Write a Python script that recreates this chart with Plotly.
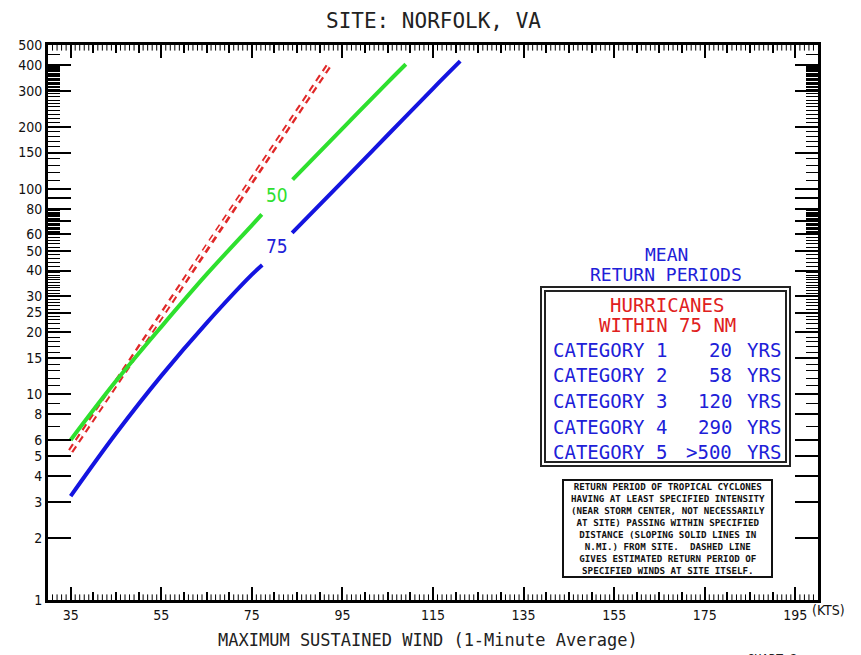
import math
import plotly.graph_objects as go

# ---------------- data ----------------
wind_50nm = [35, 45, 55, 65, 75, 77.2, None, 84, 95, 105, 109]
rp_50nm = [6.0, 11.6, 21.3, 38.3, 66.4, 75.0, None, 110.7, 196, 329, 403]

wind_75nm = [35, 45, 55, 65, 75, 77.3, None, 83.9, 95, 105, 115, 121]
rp_75nm = [3.2, 6.45, 12.3, 22.2, 38.2, 42.6, None, 61.0, 108.4, 182.5, 307, 417]

wind_site = [35, 45, 55, 65, 75, 85, 92.3]
rp_site = [5.3, 11.3, 24.0, 52.1, 111, 235, 407]

category_labels = ["CATEGORY 1", "CATEGORY 2", "CATEGORY 3", "CATEGORY 4", "CATEGORY 5"]
category_years = ["20", "58", "120", "290", ">500"]

x_label_vals = [35, 55, 75, 95, 115, 135, 155, 175, 195]
x_label_text = ["35", "55", "75", "95", "115", "135", "155", "175", "195"]
x_mid_ticks = [v for v in range(30, 201, 5)]
x_fine_ticks = [v for v in range(31, 200) if v % 5 != 0]

y_tick_vals = [1, 2, 3, 4, 5, 6, 8, 10, 15, 20, 25, 30, 40, 50, 60, 70, 80, 90,
               100, 150, 200, 300, 400, 500]
y_tick_text = ["1", "2", "3", "4", "5", "6", "8", "10", "15", "20", "25", "30",
               "40", "50", "60", "", "80", "", "100", "150", "200", "300", "400", "500"]
y_minor_ticks = ([7, 9, 11, 12, 13, 14, 16, 17, 18, 19]
                 + [v for v in range(21, 30) if v != 25]
                 + [v for v in range(31, 40)]
                 + [v for v in range(42, 60, 2) if v != 50]
                 + [v for v in range(61, 80) if v != 70]
                 + [110, 120, 130, 140, 160, 170, 180, 190]
                 + [210, 220, 230, 240, 250, 260, 270, 280, 290]
                 + [v for v in range(305, 400, 5)]
                 + [450])

notice_lines = [
    "RETURN PERIOD OF TROPICAL CYCLONES",
    "HAVING AT LEAST SPECIFIED INTENSITY",
    "(NEAR STORM CENTER, NOT NECESSARILY",
    "AT SITE) PASSING WITHIN SPECIFIED",
    "DISTANCE (SLOPING SOLID LINES IN",
    "N.MI.) FROM SITE.  DASHED LINE",
    "GIVES ESTIMATED RETURN PERIOD OF",
    "SPECIFIED WINDS AT SITE ITSELF.",
]

# ---------------- styling ----------------
GREEN = "#2ee02e"
BLUE = "#1414e0"
RED = "#e02828"
TXT_BLUE = "#2020d8"
TXT_RED = "#e02020"
MONO = "DejaVu Sans Mono"
COND = "DejaVu Sans Condensed, DejaVu Sans"
Y_MIN, Y_MAX = 1, 500

L, R, T, B = 48, 43, 45, 55
W, H = 861, 655
PW, PH = W - L - R, H - T - B


def px(x):
    return (x - L) / PW


def py(y):
    return (H - B - y) / PH


fig = go.Figure()

# fine 1-kt tick marks along bottom and top frame (markers clipped to the plot area)
for edge in (Y_MIN, Y_MAX):
    fig.add_trace(go.Scatter(x=x_fine_ticks, y=[edge] * len(x_fine_ticks), mode="markers",
                             marker=dict(symbol="line-ns", size=8,
                                         line=dict(color="black", width=1)),
                             cliponaxis=True, hoverinfo="skip"))

fig.add_trace(go.Scatter(x=wind_site, y=rp_site, mode="lines",
                         line=dict(color=RED, width=6, dash="7px,5px"),
                         hoverinfo="skip"))
fig.add_trace(go.Scatter(x=wind_site, y=rp_site, mode="lines",
                         line=dict(color="white", width=1.7, dash="7px,5px"),
                         hoverinfo="skip"))
fig.add_trace(go.Scatter(x=wind_50nm, y=rp_50nm, mode="lines",
                         line=dict(color=GREEN, width=4, shape="spline", smoothing=1),
                         hoverinfo="skip"))
fig.add_trace(go.Scatter(x=wind_75nm, y=rp_75nm, mode="lines",
                         line=dict(color=BLUE, width=4, shape="spline", smoothing=1),
                         hoverinfo="skip"))

axis_common = dict(showgrid=False, zeroline=False, showline=True, linewidth=3,
                   linecolor="black", ticks="inside", tickcolor="black",
                   mirror="allticks")

fig.update_layout(
    width=W, height=H,
    margin=dict(l=L, r=R, t=T, b=B),
    paper_bgcolor="white", plot_bgcolor="white",
    showlegend=False,
    xaxis=dict(range=[30, 200], tickmode="array", tickvals=x_label_vals,
               ticktext=x_label_text, ticklen=13, tickwidth=2,
               tickfont=dict(family=COND, size=14, color="#111"),
               minor=dict(tickmode="array", tickvals=x_mid_ticks, ticks="inside",
                          ticklen=8, tickwidth=1.5, tickcolor="black", showgrid=False),
               **axis_common),
    yaxis=dict(type="log", range=[math.log10(Y_MIN), math.log10(Y_MAX)], tickmode="array",
               tickvals=y_tick_vals, ticktext=y_tick_text, ticklen=23, tickwidth=2,
               tickfont=dict(family=COND, size=14, color="#111"),
               minor=dict(tickmode="array", tickvals=y_minor_ticks, ticks="inside",
                          ticklen=12, tickwidth=1, tickcolor="black", showgrid=False),
               **axis_common),
)


def note(x, y, text, size, color, family=MONO, xanchor="center", ref="paper"):
    return dict(x=x, y=y, xref=ref, yref=ref, text=text, showarrow=False,
                xanchor=xanchor, yanchor="middle",
                font=dict(family=family, size=size, color=color))


ann = []
ann.append(note(px(433), py(21), "SITE: NORFOLK, VA", 21, "#222"))
ann.append(note(px(428), py(640), "MAXIMUM SUSTAINED WIND (1-Minute Average)", 17, "#222"))
ann.append(note(px(810), py(610), "(KTS)", 14, "#111", family=COND, xanchor="left"))
ann.append(note(px(745), py(659), "CHART 2", 12, "#222", xanchor="left"))
ann.append(dict(x=80.6, y=math.log10(93), xref="x", yref="y", text="50", showarrow=False,
                xanchor="center", yanchor="middle",
                font=dict(family=COND, size=19, color=GREEN)))
ann.append(dict(x=80.6, y=math.log10(52.5), xref="x", yref="y", text="75", showarrow=False,
                xanchor="center", yanchor="middle",
                font=dict(family=COND, size=19, color=TXT_BLUE)))
ann.append(note(px(666), py(254), "MEAN", 18, TXT_BLUE))
ann.append(note(px(666), py(274), "RETURN PERIODS", 18, TXT_BLUE))
ann.append(note(px(667), py(305), "HURRICANES", 19, TXT_RED))
ann.append(note(px(667), py(325), "WITHIN 75 NM", 19, TXT_RED))
row_y = [350, 375, 401, 427, 452]
for lab, yrs, ry in zip(category_labels, category_years, row_y):
    ann.append(note(px(551), py(ry), lab, 19, TXT_BLUE, xanchor="left"))
    ann.append(note(px(734), py(ry), yrs.replace(">", "&gt;"), 19, TXT_BLUE, xanchor="right"))
    ann.append(note(px(783), py(ry), "YRS", 19, TXT_BLUE, xanchor="right"))
ann.append(note(px(668), py(528.5), "<b>" + "<br>".join(notice_lines) + "</b>", 9.2, "#111"))
fig.update_layout(annotations=ann)

shapes = [
    dict(type="rect", xref="paper", yref="paper", x0=px(541), x1=px(790),
         y0=py(287), y1=py(466), line=dict(color="#222", width=2), fillcolor="white",
         layer="below"),
    dict(type="rect", xref="paper", yref="paper", x0=px(545), x1=px(786),
         y0=py(291), y1=py(462), line=dict(color="#222", width=2)),
    dict(type="rect", xref="paper", yref="paper", x0=px(563), x1=px(772),
         y0=py(480), y1=py(577), line=dict(color="#111", width=2)),
]
fig.update_layout(shapes=shapes)

fig.write_html("out.html", config={"displayModeBar": False},
               post_script="document.body.style.margin='0px';document.body.style.padding='0px';document.body.style.overflow='hidden';")
